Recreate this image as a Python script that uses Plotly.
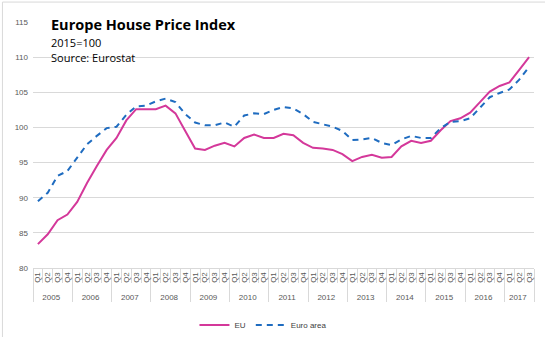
import plotly.graph_objects as go

years = [str(y) for y in range(2005, 2018)]
quarters = ["Q1", "Q2", "Q3", "Q4"]

year_labels = []
quarter_labels = []
for y in years:
    for q in quarters:
        if y == "2017" and q == "Q4":
            continue
        year_labels.append(y)
        quarter_labels.append(q)

eu = [83.4, 84.8, 86.8, 87.6, 89.4, 92.1, 94.5, 96.8, 98.5, 101.0,
      102.6, 102.6, 102.6, 103.1, 102.0, 99.5, 97.0, 96.8, 97.4, 97.8,
      97.3, 98.5, 99.0, 98.5, 98.5, 99.1, 98.9, 97.8, 97.1, 97.0,
      96.8, 96.2, 95.2, 95.8, 96.1, 95.7, 95.8, 97.3, 98.1, 97.8,
      98.1, 99.6, 100.9, 101.3, 102.1, 103.6, 105.1, 105.9, 106.4, 108.2,
      110.0]

euro_area = [89.5, 90.7, 93.1, 93.8, 95.7, 97.6, 98.8, 99.9, 100.1, 101.8,
             103.0, 103.1, 103.7, 104.1, 103.6, 101.9, 100.7, 100.3, 100.3, 100.7,
             100.1, 101.7, 102.0, 101.9, 102.5, 102.9, 102.7, 101.9, 100.8, 100.4,
             100.1, 99.5, 98.2, 98.3, 98.5, 97.8, 97.5, 98.3, 98.8, 98.5,
             98.5, 99.9, 100.8, 100.9, 101.3, 102.8, 104.3, 104.9, 105.4, 106.8,
             108.6]

y_ticks = [80, 85, 90, 95, 100, 105, 110, 115]

grid_c = "#d9d9d9"
tick_font = dict(family="Liberation Sans, Arial, sans-serif", size=8, color="#595959")

fig = go.Figure()
fig.add_trace(go.Scatter(
    x=[year_labels, quarter_labels], y=eu, name="EU", mode="lines",
    line=dict(color="#D4389A", width=2)))
fig.add_trace(go.Scatter(
    x=[year_labels, quarter_labels], y=euro_area, name="Euro area", mode="lines",
    line=dict(color="#1F6CC0", width=2, dash="6px,5px")))

fig.update_layout(
    width=550, height=337,
    margin=dict(l=33, r=16, t=22, b=69, autoexpand=False),
    paper_bgcolor="white", plot_bgcolor="white",
    showlegend=True,
    legend=dict(orientation="h", x=0.46, xanchor="center", y=-0.232, yanchor="middle",
                font=dict(family="Liberation Sans, Arial, sans-serif", size=8, color="#404040"),
                itemwidth=30, bgcolor="rgba(0,0,0,0)"),
    xaxis=dict(type="multicategory", tickangle=-90, tickfont=tick_font,
               range=[-0.5, 50.5], automargin=False, tickmode="linear", dtick=1, tick0=0,
               showgrid=False, showline=True, linecolor=grid_c, linewidth=1,
               ticks="outside", tickson="boundaries", ticklen=14, tickcolor=grid_c,
               showdividers=True, dividercolor=grid_c, dividerwidth=1),
    yaxis=dict(range=[80, 115], tickvals=y_ticks, tickfont=tick_font, automargin=False,
               showgrid=True, gridcolor=grid_c, gridwidth=1, zeroline=False,
               showline=False, ticks="", ticklabelstandoff=4),
)

fig.add_annotation(text="<b>Europe House Price Index</b>", xref="paper", yref="paper",
                   x=0.032, y=0.988, xanchor="left", yanchor="middle", showarrow=False,
                   font=dict(family="Open Sans, sans-serif", size=14.5, color="black"))
fig.add_annotation(text="2015=100", xref="paper", yref="paper",
                   x=0.032, y=0.915, xanchor="left", yanchor="middle", showarrow=False,
                   font=dict(family="Open Sans, sans-serif", size=11, color="black"))
fig.add_annotation(text="Source: Eurostat", xref="paper", yref="paper",
                   x=0.032, y=0.854, xanchor="left", yanchor="middle", showarrow=False,
                   font=dict(family="Open Sans, sans-serif", size=11, color="black"))

# outer frame lines (top and left)
fig.add_shape(type="line", xref="paper", yref="paper", x0=-0.061, x1=1.022, y0=1.081, y1=1.081,
              line=dict(color=grid_c, width=1))
fig.add_shape(type="line", xref="paper", yref="paper", x0=-0.061, x1=-0.061, y0=1.081, y1=-0.29,
              line=dict(color=grid_c, width=1))

fig.write_html("out.html")
